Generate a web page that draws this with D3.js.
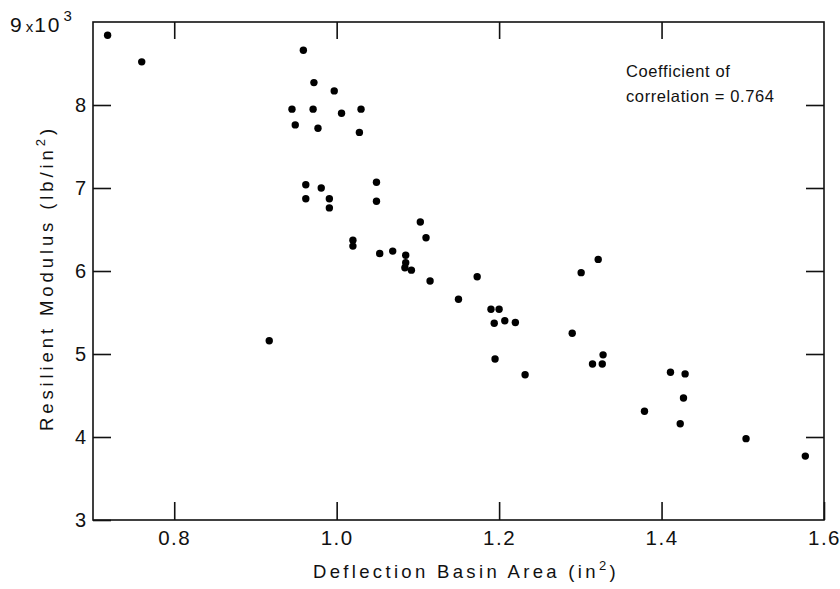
<!DOCTYPE html>
<html>
<head>
<meta charset="utf-8">
<script src="https://cdn.jsdelivr.net/npm/d3@7"></script>
<style>
  html, body { margin: 0; padding: 0; background: #fff; }
  svg { display: block; }
  text { font-family: "Liberation Sans", Arial, sans-serif; fill: #111; }
</style>
</head>
<body>
<script>
// Deflection basin area (in^2)
const basinArea = [
  0.718, 0.760, 0.959, 0.972, 0.997, 0.945, 0.971, 1.006, 1.030, 0.949,
  0.977, 1.028, 0.962, 0.981, 0.962, 0.991, 0.991, 1.049, 1.049, 1.020,
  1.020, 1.053, 1.069, 1.085, 1.085, 1.084, 1.092, 1.103, 1.110, 1.115,
  1.173, 1.150, 1.301, 1.322, 1.190, 1.200, 1.194, 1.207, 1.220, 1.290,
  1.195, 1.232, 1.315, 1.327, 1.328, 1.411, 1.429, 1.427, 1.379, 1.423,
  1.504, 1.577, 0.917
];
// Resilient modulus (x10^3 lb/in^2)
const modulus = [
  8.84, 8.52, 8.66, 8.27, 8.17, 7.95, 7.95, 7.90, 7.95, 7.76,
  7.72, 7.67, 7.04, 7.00, 6.87, 6.87, 6.76, 7.07, 6.84, 6.37,
  6.30, 6.21, 6.24, 6.19, 6.10, 6.04, 6.01, 6.59, 6.40, 5.88,
  5.93, 5.66, 5.98, 6.14, 5.54, 5.54, 5.37, 5.40, 5.38, 5.25,
  4.94, 4.75, 4.88, 4.88, 4.99, 4.78, 4.76, 4.47, 4.31, 4.16,
  3.98, 3.77, 5.16
];
const xTickValues = [0.8, 1.0, 1.2, 1.4, 1.6];
const xTickLabels = ["0.8", "1.0", "1.2", "1.4", "1.6"];
const yTickValues = [3, 4, 5, 6, 7, 8];
const yTickLabels = ["3", "4", "5", "6", "7", "8"];
const innerTickValuesX = [0.8, 1.0, 1.2, 1.4];
const innerTickValuesY = [4, 5, 6, 7, 8];
const xTitle = "Deflection Basin Area (in";
const yTitle = "Resilient Modulus (lb/in";
const annotation = ["Coefficient of", "correlation = 0.764"];

const W = 840, H = 589;
const margin = { left: 93, right: 16, top: 22, bottom: 69 };

const svg = d3.select("body").append("svg").attr("width", W).attr("height", H);

const x = d3.scaleLinear().domain([0.7, 1.6]).range([margin.left, W - margin.right]);
const y = d3.scaleLinear().domain([3, 9]).range([H - margin.bottom, margin.top]);

// Frame
svg.append("rect")
  .attr("x", x(0.7)).attr("y", y(9))
  .attr("width", x(1.6) - x(0.7)).attr("height", y(3) - y(9))
  .attr("fill", "none").attr("stroke", "#111").attr("stroke-width", 1.6);

function styleAxis(g) {
  g.select(".domain").remove();
  g.selectAll(".tick line").attr("stroke", "#111").attr("stroke-width", 1.6);
}

// Bottom axis (ticks pointing inward)
svg.append("g")
  .attr("transform", `translate(0,${y(3)})`)
  .call(d3.axisBottom(x).tickValues(xTickValues).tickSize(-18).tickPadding(10)
        .tickFormat((d, i) => xTickLabels[i]))
  .call(styleAxis)
  .call(g => g.selectAll("text").attr("font-size", 20.5).attr("letter-spacing", 1.5).attr("fill", "#111"));

// Top axis
svg.append("g")
  .attr("transform", `translate(0,${y(9)})`)
  .call(d3.axisTop(x).tickValues(innerTickValuesX).tickSize(-17).tickFormat(""))
  .call(styleAxis);

// Left axis
svg.append("g")
  .attr("transform", `translate(${x(0.7)},0)`)
  .call(d3.axisLeft(y).tickValues(yTickValues).tickSize(-18).tickPadding(7)
        .tickFormat((d, i) => yTickLabels[i]))
  .call(styleAxis)
  .call(g => g.selectAll("text").attr("font-size", 20).attr("fill", "#111"));

// Right axis
svg.append("g")
  .attr("transform", `translate(${x(1.6)},0)`)
  .call(d3.axisRight(y).tickValues(innerTickValuesY).tickSize(-18).tickFormat(""))
  .call(styleAxis);

// Top-left "9 x 10^3" label
const topLbl = svg.append("text")
  .attr("x", 10).attr("y", y(9) + 10)
  .attr("text-anchor", "start").attr("font-size", 21);
topLbl.append("tspan").text("9");
topLbl.append("tspan").attr("font-size", 15).attr("dx", 4).text("x");
topLbl.append("tspan").attr("dx", 1).attr("letter-spacing", 2).text("10");
topLbl.append("tspan").attr("font-size", 15).attr("dy", -11).attr("dx", 2).text("3");

// Points
svg.append("g").selectAll("circle")
  .data(basinArea.map((d, i) => [d, modulus[i]]))
  .join("circle")
  .attr("cx", d => x(d[0]))
  .attr("cy", d => y(d[1]))
  .attr("r", 3.7)
  .attr("fill", "#000");

// Fit letter-spacing so a title reaches a target length
function fitSpacing(textSel, target) {
  const node = textSel.node();
  const w = node.getComputedTextLength();
  const n = node.textContent.length;
  textSel.attr("letter-spacing", Math.max(0, (target - w) / n));
}

// X title
const xt = svg.append("text")
  .attr("x", 466).attr("y", 578)
  .attr("text-anchor", "middle").attr("font-size", 18.5);
xt.append("tspan").text(xTitle);
xt.append("tspan").attr("font-size", 13).attr("dy", -8).text("2");
xt.append("tspan").attr("dy", 8).text(")");
fitSpacing(xt, 306);

// Y title
const yt = svg.append("text")
  .attr("transform", "translate(53,278) rotate(-90)")
  .attr("text-anchor", "middle").attr("font-size", 18.5);
yt.append("tspan").text(yTitle);
yt.append("tspan").attr("font-size", 13).attr("dy", -8).text("2");
yt.append("tspan").attr("dy", 8).text(")");
fitSpacing(yt, 306);

// Annotation
svg.append("g").selectAll("text")
  .data(annotation)
  .join("text")
  .attr("x", 626)
  .attr("y", (d, i) => 77 + i * 25)
  .attr("font-size", 16.5)
  .attr("letter-spacing", 0.6)
  .text(d => d);
</script>
</body>
</html>
